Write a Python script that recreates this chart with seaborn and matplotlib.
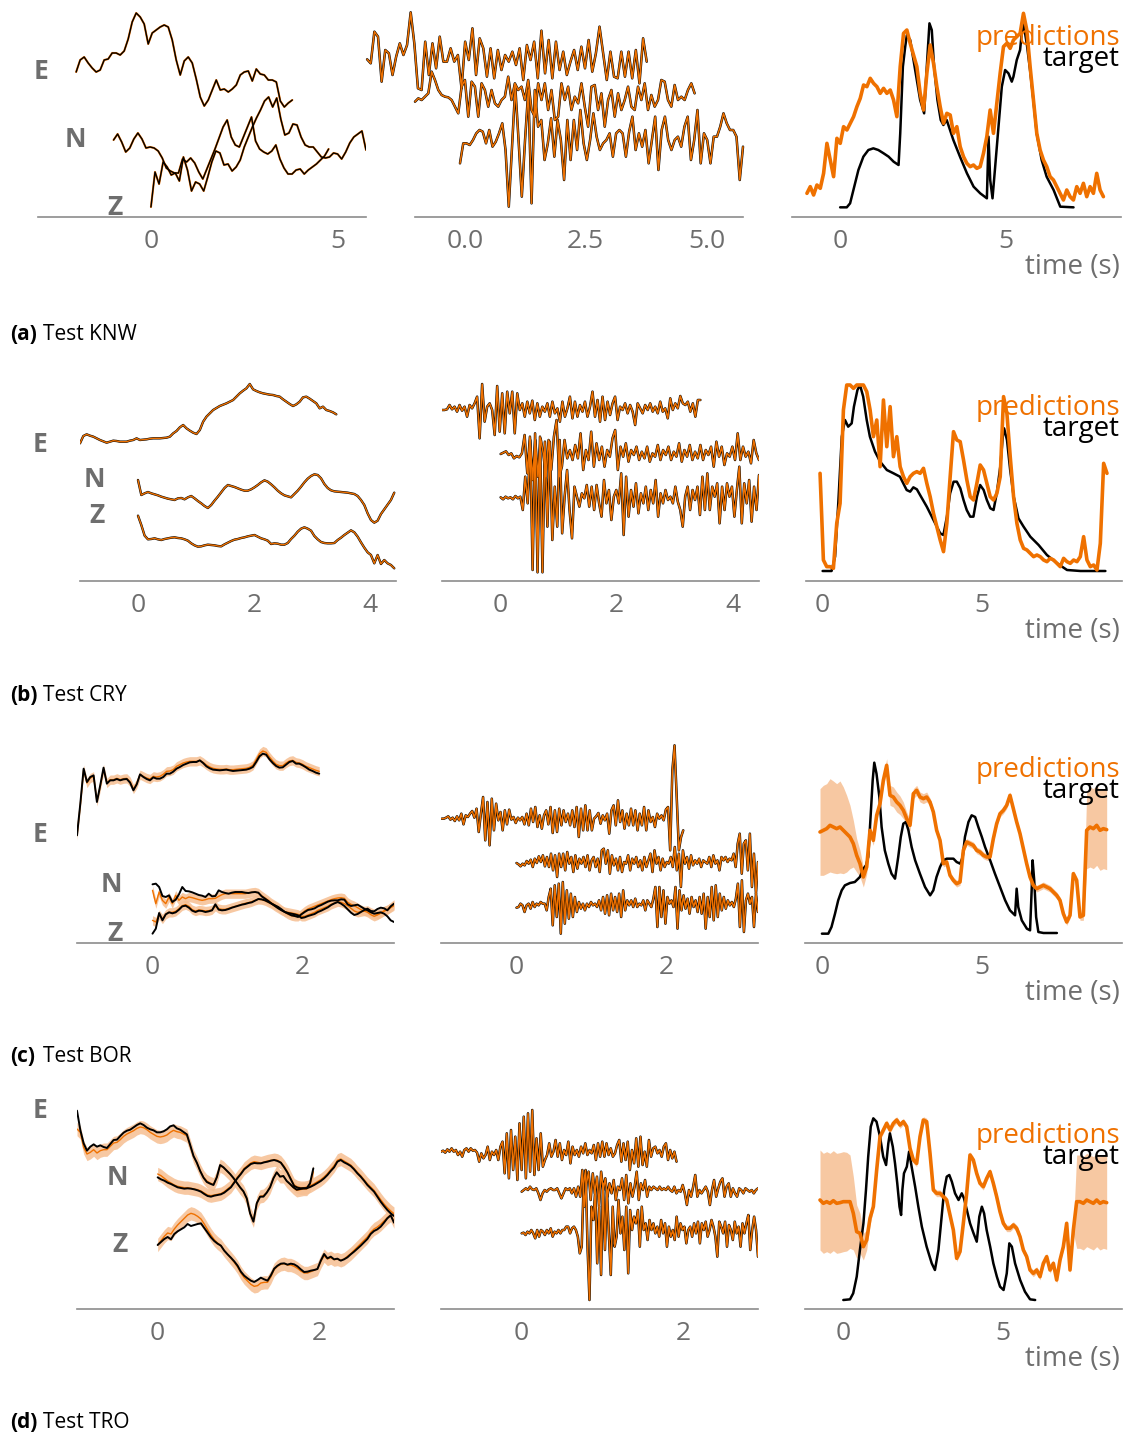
import numpy as np
import matplotlib
matplotlib.use("Agg")
import matplotlib.pyplot as plt
import seaborn as sns

# ---------------- data (amplitudes in arbitrary units) -------------
captions = [("(a)", "Test KNW"), ("(b)", "Test CRY"), ("(c)", "Test BOR"), ("(d)", "Test TRO")]
components = ["E", "N", "Z"]

# ---- (a) KNW
a_left_E = [145,157,160,154,149,145,147,157,158,164,164,162,166,178,195,204,200,193,173,184,187,190,192,190,177,157,142,156,160,154,138,120,111,117,127,137,127,128,125,128,132,142,145,146,136,148,143,142,137,137,135,116,110,114,117]
a_left_N = [77,83,75,65,69,78,84,78,69,70,69,66,59,49,46,44,44,58,55,59,54,45,38,48,58,68,79,90,97,80,72,70,80,90,100,76,68,65,63,66,72,58,49,43,43,47,48,43,47,50,53,57,61,68]
a_left_Z = [10,45,33,55,50,42,44,36,60,47,26,35,33,26,40,55,66,64,52,53,46,50,57,70,80,90,99,107,116,120,110,119,98,82,84,93,92,80,72,70,70,65,60,59,60,64,63,58,65,74,80,83,86,67]
a_mid_E = [473,461,556,541,406,501,491,426,481,521,486,516,614,521,386,381,526,426,521,446,541,466,466,506,466,486,386,526,471,566,426,536,506,421,506,416,501,441,486,466,496,456,506,411,516,471,526,416,559,431,531,416,526,441,496,426,466,501,441,511,446,531,436,491,571,491,411,496,421,416,496,421,496,416,501,401,536,466]
a_mid_N = [346,356,351,361,371,436,411,381,366,361,359,351,331,311,391,411,301,406,391,301,401,381,331,381,341,331,351,361,421,351,401,381,391,351,411,321,301,401,351,401,321,381,291,301,401,351,391,321,361,341,401,331,271,391,396,321,371,271,351,381,301,371,321,351,391,331,321,391,351,401,321,366,331,351,411,406,351,331,396,351,361,351,381,401,371]
a_mid_Z = [161,221,221,216,231,251,261,256,221,261,211,226,251,281,201,31,211,391,231,61,231,381,41,381,271,291,171,221,296,181,291,231,111,291,171,291,201,321,221,171,231,311,241,201,221,231,251,181,251,261,251,181,256,301,201,251,211,261,161,231,301,141,261,301,231,201,231,241,211,271,301,171,231,321,161,251,231,161,241,241,271,311,281,261,261,241,111,211]
a_pred = [71,91,66,96,86,131,221,171,121,236,221,271,261,281,301,331,356,396,391,416,401,391,371,386,371,381,351,301,451,551,561,521,486,451,371,321,431,516,461,391,331,281,311,306,251,271,211,181,161,151,156,146,151,191,241,321,251,341,431,511,521,506,531,541,551,611,561,451,351,251,201,171,151,121,111,91,71,51,81,61,51,91,71,101,61,91,71,131,81,61]
a_target_t = [0.00,0.20,0.30,0.40,0.55,0.70,0.85,1.00,1.15,1.31,1.46,1.61,1.76,1.81,1.89,1.96,2.01,2.11,2.21,2.31,2.41,2.53,2.61,2.69,2.76,2.83,2.93,3.03,3.11,3.21,3.31,3.41,3.61,3.82,4.02,4.22,4.42,4.47,4.52,4.59,4.67,4.77,4.87,4.97,5.07,5.17,5.22,5.32,5.37,5.42,5.47,5.52,5.62,5.72,5.82,5.92,6.07,6.22,6.43,6.63,7.03]
a_target_v = [29,29,41,81,141,181,201,206,201,191,181,166,156,251,451,511,546,531,471,411,351,311,451,581,561,451,351,291,276,291,261,231,181,131,91,71,56,241,111,56,151,271,391,441,431,406,421,471,486,501,551,581,521,441,351,251,171,121,81,31,29]

# ---- (b) CRY
b_left_E = [413,435,440,436,433,428,423,419,415,418,421,420,418,418,418,421,423,428,423,424,425,427,428,428,428,429,430,433,443,450,461,468,458,451,445,441,453,478,493,503,513,519,525,529,533,538,543,553,563,571,578,591,575,570,566,563,561,559,558,555,553,545,538,531,525,530,538,551,553,547,540,533,518,523,513,510,506,500]
b_left_N = [303,258,263,267,263,260,257,253,250,247,245,243,248,249,245,251,255,248,240,233,225,219,228,241,253,266,279,288,285,282,278,274,271,271,275,281,288,296,302,298,290,281,271,263,257,254,251,261,271,283,296,307,315,320,318,308,291,279,272,269,268,267,266,265,263,261,255,243,228,203,183,175,181,201,215,229,243,265]
b_left_Z = [196,168,136,125,126,128,125,123,126,128,130,131,129,128,125,121,113,107,103,104,107,109,108,107,105,104,110,115,120,124,126,129,131,134,136,138,133,128,125,121,111,113,112,109,109,114,126,136,148,157,161,157,151,135,125,117,114,113,113,114,123,130,138,145,152,146,133,116,100,86,78,53,78,51,63,53,48,38]
b_mid_E = [513,513,515,528,515,523,508,528,511,523,493,528,518,533,553,428,591,478,523,533,513,438,585,448,563,443,568,503,568,443,563,513,533,493,538,503,541,483,533,493,523,508,533,493,538,503,518,478,538,493,518,553,488,538,493,528,508,538,493,523,568,493,543,478,553,483,538,498,533,553,483,523,513,533,503,528,508,468,533,518,503,528,513,533,508,523,503,538,508,518,488,548,513,533,518,555,533,528,538,508,533,493,543,543]
b_mid_N = [381,385,389,378,383,368,375,371,383,438,323,433,303,423,313,428,383,313,423,333,433,483,313,343,423,368,393,363,408,368,443,333,393,363,448,343,413,363,403,343,393,373,428,453,333,403,373,413,358,393,378,403,363,388,368,403,358,383,373,408,363,393,378,403,363,388,373,413,358,393,373,408,363,388,368,408,363,393,378,403,343,418,373,403,348,383,373,403,363,443,363,403,373,388,353,423,383,363]
b_mid_Z = [251,245,253,248,251,245,255,248,253,213,313,233,423,33,443,26,433,26,418,163,418,123,283,163,423,143,253,333,213,128,283,253,223,263,248,288,223,283,213,288,233,193,303,233,273,183,253,273,233,323,138,313,193,273,223,293,203,263,233,283,213,273,233,303,193,263,233,273,243,253,233,283,238,213,163,253,283,213,273,243,283,198,313,213,323,213,283,253,293,173,283,213,293,253,283,193,273,343,173,293,233,303,178,283,213,318]
b_pred = [323,63,43,43,38,173,233,513,588,588,578,588,588,588,568,513,433,483,343,543,403,523,373,433,343,313,293,313,323,328,323,338,293,253,203,163,123,88,173,313,448,423,418,363,303,253,243,293,348,333,293,253,243,263,313,553,503,373,253,173,123,98,93,83,73,78,73,63,58,68,63,53,43,68,58,53,63,58,73,133,63,43,48,33,113,353,323]
b_target_t = [0.00,0.28,0.39,0.49,0.60,0.70,0.80,0.91,0.98,1.09,1.17,1.27,1.38,1.48,1.64,1.80,2.01,2.22,2.42,2.63,2.74,2.84,2.95,3.05,3.26,3.47,3.68,3.78,3.89,3.99,4.10,4.20,4.31,4.41,4.51,4.62,4.72,4.83,4.93,5.04,5.14,5.25,5.35,5.45,5.56,5.64,5.68,5.77,5.87,5.98,6.13,6.29,6.50,6.76,7.02,7.34,7.65,8.07,8.85]
b_target_v = [30,30,73,233,433,483,463,473,523,573,588,553,483,433,388,358,333,323,313,273,268,281,275,258,223,183,143,138,193,263,298,298,278,243,213,193,193,253,288,273,243,218,213,263,343,433,458,423,333,253,188,163,133,108,78,53,33,30,30]

# ---- (c) BOR
c_left_E = [323,418,523,483,498,503,423,473,526,478,488,488,492,488,491,492,481,458,476,506,498,492,488,497,493,493,498,508,508,514,523,528,534,538,542,543,543,548,540,530,524,520,519,518,519,520,518,516,517,518,519,520,523,528,543,560,568,565,551,540,531,526,527,535,543,546,538,538,533,527,520,516,511,508]
c_left_E_pred = [323,415,520,480,495,500,425,470,522,480,490,490,494,490,493,494,484,462,478,505,500,495,492,500,498,500,506,515,516,520,530,535,540,543,545,545,545,548,542,534,528,524,522,521,521,522,520,520,521,522,523,524,527,533,550,568,576,572,558,546,536,532,532,540,546,548,542,540,536,530,526,522,518,515]
c_left_N = [176,178,168,141,138,143,123,130,146,168,156,155,152,148,144,142,138,148,140,141,158,153,150,148,151,153,153,153,151,150,152,153,151,140,133,126,118,113,108,101,93,88,83,81,78,86,93,99,101,104,110,114,119,124,127,128,128,131,130,116,111,113,115,109,103,98,92,88,90,92,88,80,68,63]
c_left_N_pred = [158,118,153,128,118,138,118,143,128,138,133,138,136,133,130,128,130,133,133,134,140,145,148,148,148,148,148,148,148,150,152,153,150,142,135,128,120,114,108,100,92,86,82,80,80,88,96,102,106,110,114,118,122,126,130,133,135,136,134,122,116,112,106,100,96,92,85,80,84,90,96,100,106,112]
c_left_Z = [28,43,90,68,86,92,89,92,100,110,112,106,97,93,97,96,93,95,98,116,100,98,99,102,106,109,112,115,117,120,122,127,132,131,128,123,118,111,104,98,93,90,88,86,83,75,77,81,84,87,93,97,102,107,114,119,123,118,111,101,91,84,87,93,99,103,96,95,102,106,104,98,110,118]
c_left_Z_pred = [68,63,85,72,86,92,92,95,103,112,115,110,100,96,99,98,96,97,100,110,103,101,101,104,107,110,113,116,119,121,124,128,131,130,127,122,117,110,104,98,94,92,90,88,86,80,80,84,88,92,98,102,106,110,116,120,124,122,118,112,104,96,92,94,96,98,92,88,86,90,96,100,108,116]
c_left_band = 14
c_mid_E = [373,373,376,380,370,376,366,380,368,388,356,383,378,388,396,376,403,333,388,438,308,423,293,433,338,418,368,393,338,398,356,400,370,378,360,376,368,378,356,388,353,403,363,408,348,383,343,383,398,356,408,330,398,333,403,353,398,363,388,353,398,348,408,318,403,338,413,338,398,338,373,380,390,358,383,368,388,328,398,413,353,428,363,398,343,388,353,403,353,398,338,388,353,408,338,398,363,378,348,388,373,383,368,400,408,278,518,593,438,278,318,338]
c_mid_N = [240,236,230,238,233,246,238,250,228,253,240,260,243,263,230,258,228,268,218,263,198,268,228,268,218,273,238,258,213,263,223,253,238,258,228,263,218,248,258,228,253,213,278,283,238,278,208,263,233,253,218,258,213,243,238,263,218,253,238,258,228,248,218,258,228,248,268,213,278,238,258,218,253,228,243,238,258,228,288,218,268,168,278,238,258,223,263,233,248,238,253,228,248,243,238,258,228,263,238,248,218,258,248,258,243,253,248,268,228,298,328,208,298,308,218,328,168,268,148,243]
c_mid_Z = [106,108,118,113,93,113,118,103,123,108,118,113,123,118,118,98,138,163,53,173,78,178,28,183,58,158,73,148,78,138,93,123,103,118,98,118,108,123,113,118,108,128,98,138,88,143,83,148,98,138,93,148,78,158,98,128,113,128,108,133,108,118,113,128,98,128,118,108,133,168,48,168,78,158,58,138,118,128,108,168,43,158,98,143,103,133,88,138,108,128,93,138,88,148,43,138,78,168,68,173,78,148,98,138,103,128,113,123,108,133,178,48,188,33,128,148,118,138,48,148,93]
c_pred = [333,338,343,353,348,343,348,338,328,318,298,263,238,198,228,338,308,383,418,488,533,443,438,423,413,398,373,353,448,458,438,433,438,423,393,338,308,238,243,203,188,178,183,278,303,298,293,278,273,263,258,258,313,358,388,398,413,443,403,363,328,283,238,198,173,163,168,173,168,163,153,143,128,88,63,83,208,188,78,83,338,348,343,353,338,343,340]
c_pred_band = [130,135,135,140,138,135,138,130,115,95,70,50,40,30,22,18,15,15,15,18,20,30,30,30,28,25,20,18,15,15,15,15,15,12] + [10] * 45 + [15, 115, 120, 120, 120, 120, 120, 120]
c_target_t = [0.00,0.20,0.30,0.41,0.51,0.62,0.72,0.88,1.03,1.19,1.30,1.38,1.45,1.53,1.59,1.64,1.71,1.80,1.87,1.97,2.08,2.18,2.29,2.39,2.47,2.55,2.63,2.71,2.81,2.92,3.07,3.23,3.39,3.49,3.59,3.70,3.80,3.91,4.12,4.22,4.33,4.41,4.48,4.59,4.69,4.80,4.90,5.01,5.11,5.27,5.42,5.58,5.74,5.89,6.05,6.10,6.15,6.26,6.42,6.52,6.57,6.60,6.65,6.71,6.78,6.94,7.36]
c_target_v = [28,28,48,88,128,158,173,180,183,198,223,233,258,388,488,541,508,438,348,278,238,208,193,258,318,358,363,338,288,248,208,168,143,158,198,228,248,253,253,243,238,258,318,363,383,378,348,318,288,248,208,168,128,98,83,163,108,68,43,38,158,248,188,78,33,30,30]

# ---- (d) TRO
d_left_E = [595,537,497,475,487,494,487,491,486,483,495,507,508,519,529,535,538,545,552,557,552,544,539,536,530,530,533,539,548,551,542,538,531,524,492,459,439,414,394,381,376,372,395,432,425,415,405,393,379,365,353,332,287,262,317,337,337,349,365,392,410,397,399,384,375,365,358,360,362,362,377,422]
d_left_E_pred = [540,530,485,465,470,478,468,475,478,478,488,498,500,508,518,525,530,535,542,546,544,538,530,524,518,516,518,522,530,536,532,530,525,520,490,458,438,415,396,384,378,374,396,430,424,414,404,392,378,364,352,330,287,265,318,338,340,350,366,392,410,398,398,384,374,364,356,358,360,360,372,412]
d_left_N = [395,389,385,379,375,370,365,363,361,362,361,359,356,352,345,339,337,340,342,344,349,357,365,379,393,405,419,427,435,438,437,437,440,442,445,447,444,439,425,409,389,369,364,362,362,363,367,372,378,384,392,402,414,425,442,447,440,435,429,419,407,397,385,372,362,352,337,322,309,297,287,279]
d_left_N_pred = [405,400,392,384,378,372,368,366,364,364,362,360,358,354,348,342,340,342,344,346,352,360,368,382,396,408,422,430,438,442,440,438,441,444,446,448,446,440,428,412,392,372,366,364,364,366,370,376,382,388,396,406,418,430,446,450,444,438,432,422,410,400,388,376,366,356,342,328,315,304,294,286]
d_left_Z = [192,201,210,216,209,225,233,239,245,255,249,252,255,257,243,229,215,204,196,190,175,164,154,143,130,112,100,92,85,81,87,94,89,85,101,121,130,136,137,133,136,134,128,119,111,112,115,117,120,145,165,152,157,149,151,145,149,155,164,172,181,190,200,210,225,234,239,247,259,272,281,259]
d_left_Z_pred = [192,205,218,228,225,240,252,262,272,282,287,284,278,270,255,238,222,208,198,190,176,164,152,140,126,108,94,84,74,68,70,78,80,80,96,118,128,134,136,132,132,128,122,114,108,108,112,116,120,142,160,150,154,148,150,146,150,158,166,176,186,196,206,216,230,240,246,254,264,274,282,262]
d_left_band = 20
d_mid_E = [472,475,469,479,472,482,472,477,462,472,457,477,482,472,482,475,477,469,442,467,452,462,487,447,472,462,477,447,487,502,407,527,392,537,417,517,387,557,417,577,392,587,412,597,402,512,417,527,427,447,462,497,457,472,507,457,497,447,477,462,502,437,487,462,477,457,487,467,497,462,477,467,492,447,497,457,502,457,497,462,482,457,467,492,507,442,497,447,502,417,477,437,512,427,517,432,472,427,507,457,482,487,467,477,457,487,497,447,477,452,472,442]
d_mid_N = [352,357,362,357,367,359,357,362,347,327,347,357,352,359,362,357,357,362,347,332,347,362,357,362,347,362,337,367,337,417,307,377,412,327,407,347,397,307,412,357,392,337,377,347,387,327,367,357,392,327,402,317,377,337,367,412,327,377,357,387,337,367,357,367,362,357,367,357,362,357,367,357,352,367,347,357,352,372,347,312,357,337,367,402,337,357,347,357,367,352,312,357,387,337,362,382,392,337,367,377,337,362,347,337,362,357,347,362,357,352,357,347,357,362]
d_mid_Z = [227,229,222,232,227,237,227,212,237,217,237,232,222,237,227,242,217,232,227,237,227,237,237,247,247,227,242,247,237,217,167,187,377,417,187,27,307,267,357,137,307,102,377,177,357,227,102,307,187,217,327,227,277,177,307,107,297,237,277,257,297,187,307,237,257,207,267,237,257,227,247,217,267,227,257,187,247,217,237,207,277,217,257,237,247,197,237,247,217,257,227,262,197,257,237,262,217,237,267,247,217,157,262,247,227,262,187,252,237,207,262,227,247,187,257,227,257,282,177,237,277,237,157]
d_pred = [327,317,322,317,325,317,319,322,322,322,287,232,227,187,207,272,307,417,517,537,557,537,557,567,552,562,547,482,447,437,517,567,562,467,357,347,347,337,327,282,237,152,172,257,347,462,447,407,377,367,392,412,377,337,292,257,242,242,252,242,217,177,157,117,107,117,97,137,157,117,137,87,147,187,257,117,237,322,322,317,327,322,317,327,317,322,319]
d_pred_band = [150, 150, 150, 150, 150, 150, 150, 150, 148, 140, 110, 80, 60, 40, 30, 20] + [10] * 61 + [140] * 10
d_target_t = [0.00,0.21,0.31,0.42,0.52,0.63,0.71,0.78,0.86,0.94,1.04,1.15,1.25,1.34,1.41,1.46,1.55,1.62,1.69,1.76,1.81,1.85,1.90,1.99,2.06,2.14,2.25,2.35,2.46,2.61,2.77,2.87,2.98,3.08,3.16,3.24,3.32,3.40,3.50,3.61,3.71,3.78,3.87,3.97,4.08,4.18,4.26,4.34,4.41,4.49,4.60,4.70,4.81,4.91,5.02,5.12,5.20,5.28,5.38,5.54,5.69,5.85,6.01]
d_target_v = [27,29,47,97,177,257,357,457,547,572,562,517,457,432,497,527,487,437,377,307,282,357,407,427,472,427,367,307,247,187,137,117,177,277,357,397,402,382,347,327,347,332,297,257,227,202,277,307,287,237,187,137,97,67,57,107,197,187,137,87,52,29,27]

# ---------------- layout helpers ----------------
sns.set_theme(style="white")
plt.rcParams['font.family'] = ['Open Sans', 'DejaVu Sans']

W, H = 1134, 1437
fig = plt.figure(figsize=(W / 100, H / 100), dpi=100)

ORANGE = "#EF7100"
BAND = "#F6BF92"
GRAY = "#6E6E6E"
SPINE = "#8C8C8C"
AX_H = 215  # px


def fx(x):
    return x / W


def fy(y):
    return 1 - y / H


def make_ax(l, r, spine, xlim, ticks, labels, ytop=645):
    ax = fig.add_axes([l / W, (H - spine) / H, (r - l) / W, AX_H / H])
    ax.set_xlim(*xlim)
    ax.set_ylim(0, ytop)
    for s in ["top", "right", "left"]:
        ax.spines[s].set_visible(False)
    ax.spines["bottom"].set_color(SPINE)
    ax.spines["bottom"].set_linewidth(1.2)
    ax.set_yticks([])
    ax.set_xticks(ticks)
    ax.set_xticklabels(labels)
    ax.tick_params(axis="x", direction="in", length=5, width=1, color=SPINE,
                   labelsize=19, labelcolor=GRAY, pad=9)
    ax.patch.set_alpha(0)
    ax.grid(False)
    return ax


def line(ax, t, v, color, lw, z, clip=True):
    sns.lineplot(x=np.asarray(t, float), y=np.asarray(v, float), ax=ax, color=color,
                 linewidth=lw, zorder=z, estimator=None, sort=False, clip_on=clip)


def trace(ax, t0, t1, v, color, lw, z, clip=True):
    line(ax, np.linspace(t0, t1, len(v)), v, color, lw, z, clip)


def band(ax, t0, t1, center, half, z=1):
    t = np.linspace(t0, t1, len(center))
    c = np.asarray(center, float)
    h = np.asarray(half, float)
    ax.fill_between(t, c - h, c + h, color=BAND, lw=0, zorder=z, alpha=0.85)


rows = [
    dict(spine=217, cap_y=340, lab=[(41, 79), (75, 147), (115, 215)], pt=(45, 66),
         L=(38, 366, (-3.02, 5.75), [0, 5], ["0", "5"]),
         M=(415, 743, (-1.03, 5.75), [0, 2.5, 5], ["0.0", "2.5", "5.0"]),
         R=(792, 1121, (-1.45, 8.46), [0, 5], ["0", "5"])),
    dict(spine=581, cap_y=701, lab=[(40, 452), (94, 487), (97, 523)], pt=(415, 436),
         L=(80, 396, (-1.0, 4.45), [0, 2, 4], ["0", "2", "4"]),
         M=(442, 759, (-1.01, 4.45), [0, 2, 4], ["0", "2", "4"]),
         R=(806, 1122, (-0.52, 9.37), [0, 5], ["0", "5"])),
    dict(spine=943, cap_y=1062, lab=[(40, 842), (111, 892), (115, 941)], pt=(777, 798),
         L=(77, 394, (-1.01, 3.23), [0, 2], ["0", "2"]),
         M=(441, 758, (-1.01, 3.23), [0, 2], ["0", "2"]),
         R=(805, 1122, (-0.53, 9.40), [0, 5], ["0", "5"])),
    dict(spine=1309, cap_y=1428, lab=[(40, 1118), (117, 1185), (120, 1252)], pt=(1143, 1164),
         L=(77, 394, (-1.0, 2.93), [0, 2], ["0", "2"]),
         M=(441, 758, (-1.0, 2.93), [0, 2], ["0", "2"]),
         R=(805, 1122, (-1.2, 8.73), [0, 5], ["0", "5"])),
]

axes = []
for i, rw in enumerate(rows):
    s = rw["spine"]
    aL = make_ax(rw["L"][0], rw["L"][1], s, rw["L"][2], rw["L"][3], rw["L"][4],
                 ytop=215 if i == 0 else 645)
    aM = make_ax(rw["M"][0], rw["M"][1], s, rw["M"][2], rw["M"][3], rw["M"][4])
    aR = make_ax(rw["R"][0], rw["R"][1], s, rw["R"][2], rw["R"][3], rw["R"][4])
    axes.append((aL, aM, aR))
    for comp, (x, y) in zip(components, rw["lab"]):
        fig.text(fx(x), fy(y), comp, ha="center", va="baseline", fontsize=19,
                 fontweight="bold", color=GRAY)
    fig.text(fx(1120), fy(rw["pt"][0]), "predictions", ha="right", va="baseline",
             fontsize=20, color=ORANGE)
    fig.text(fx(1120), fy(rw["pt"][1]), "target", ha="right", va="baseline",
             fontsize=20, color="black")
    fig.text(fx(1120), fy(s + 57), "time (s)", ha="right", va="baseline",
             fontsize=20, color=GRAY)
    fig.text(fx(10), fy(rw["cap_y"]), captions[i][0], ha="left", va="baseline",
             fontsize=15, fontweight="bold", color="black")
    fig.text(fx(43), fy(rw["cap_y"]), captions[i][1], ha="left", va="baseline",
             fontsize=15, color="black")

# ---- row (a)
aL, aM, aR = axes[0]
for (t0, t1, v) in [(-2.0, 3.78, a_left_E), (-1.0, 4.75, a_left_N), (0.0, 5.75, a_left_Z)]:
    trace(aL, t0, t1, v, ORANGE, 1.5, 2)
    trace(aL, t0, t1, v, "black", 1.0, 3)
for (t0, t1, v) in [(-2.02, 3.76, a_mid_E), (-1.03, 4.75, a_mid_N), (-0.1, 5.75, a_mid_Z)]:
    trace(aM, t0, t1, v, "black", 1.8, 2, clip=False)
    trace(aM, t0, t1, v, ORANGE, 1.1, 3, clip=False)
line(aR, a_target_t, a_target_v, "black", 1.8, 3)
trace(aR, -1.0, 7.93, a_pred, ORANGE, 2.6, 4)

# ---- row (b)
aL, aM, aR = axes[1]
for (t0, t1, v) in [(-1.0, 3.42, b_left_E), (0.0, 4.42, b_left_N), (0.0, 4.42, b_left_Z)]:
    trace(aL, t0, t1, v, "black", 1.7, 2)
    trace(aL, t0, t1, v, ORANGE, 1.0, 3)
for (t0, t1, v) in [(-1.01, 3.44, b_mid_E), (0.0, 4.45, b_mid_N), (0.0, 4.45, b_mid_Z)]:
    trace(aM, t0, t1, v, "black", 1.8, 2)
    trace(aM, t0, t1, v, ORANGE, 1.1, 3)
line(aR, b_target_t, b_target_v, "black", 1.8, 3)
trace(aR, -0.08, 8.90, b_pred, ORANGE, 2.6, 4)

# ---- row (c)
aL, aM, aR = axes[2]
for (t0, t1, v, p) in [(-1.01, 2.23, c_left_E, c_left_E_pred),
                       (0.0, 3.23, c_left_N, c_left_N_pred),
                       (0.0, 3.23, c_left_Z, c_left_Z_pred)]:
    band(aL, t0, t1, p, [c_left_band] * len(p))
    trace(aL, t0, t1, p, ORANGE, 1.0, 2)
    trace(aL, t0, t1, v, "black", 1.4, 3)
for (t0, t1, v) in [(-1.0, 2.23, c_mid_E), (0.0, 3.23, c_mid_N), (0.0, 3.23, c_mid_Z)]:
    trace(aM, t0, t1, v, "black", 1.8, 2)
    trace(aM, t0, t1, v, ORANGE, 1.1, 3)
band(aR, -0.06, 8.92, c_pred, c_pred_band)
line(aR, c_target_t, c_target_v, "black", 1.8, 3)
trace(aR, -0.06, 8.92, c_pred, ORANGE, 2.6, 4)

# ---- row (d)
aL, aM, aR = axes[3]
for (t0, t1, v, p) in [(-1.0, 1.93, d_left_E, d_left_E_pred),
                       (0.0, 2.93, d_left_N, d_left_N_pred),
                       (0.0, 2.93, d_left_Z, d_left_Z_pred)]:
    band(aL, t0, t1, p, [d_left_band] * len(p))
    trace(aL, t0, t1, p, ORANGE, 1.0, 2)
    trace(aL, t0, t1, v, "black", 1.4, 3)
for (t0, t1, v) in [(-1.0, 1.92, d_mid_E), (0.0, 2.93, d_mid_N), (0.0, 2.93, d_mid_Z)]:
    trace(aM, t0, t1, v, "black", 1.8, 2)
    trace(aM, t0, t1, v, ORANGE, 1.1, 3)
band(aR, -0.73, 8.25, d_pred, d_pred_band)
line(aR, d_target_t, d_target_v, "black", 1.8, 3)
trace(aR, -0.73, 8.25, d_pred, ORANGE, 2.6, 4)

fig.savefig("out.png", dpi=100)
